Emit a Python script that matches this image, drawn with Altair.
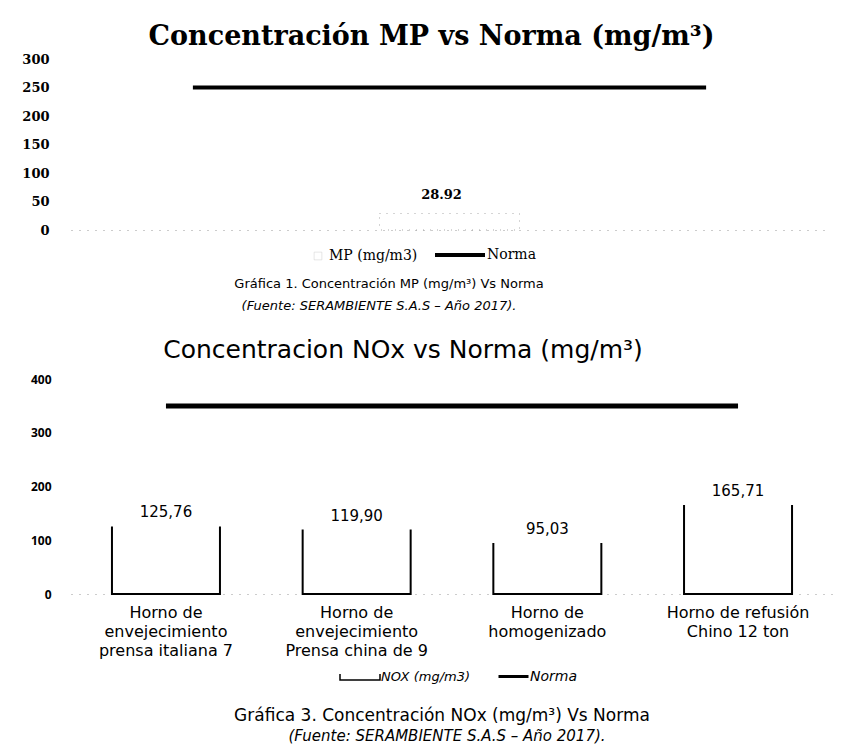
import altair as alt
import pandas as pd

# ---------- data ----------
mp_categories = ["c1", "c2", "c3"]
mp_values = [None, 28.92, None]
mp_norma = [250, 250, 250]
mp_ticks = [0, 50, 100, 150, 200, 250, 300]

nox_categories = [
    "Horno de|envejecimiento|prensa italiana 7",
    "Horno de|envejecimiento|Prensa china de 9",
    "Horno de|homogenizado",
    "Horno de refusión|Chino 12 ton",
]
nox_values = [125.76, 119.90, 95.03, 165.71]
nox_norma = [350, 350, 350, 350]
nox_ticks = [0, 100, 200, 300, 400]

mp_title = "Concentración MP vs Norma (mg/m³)"
nox_title = "Concentracion NOx vs Norma (mg/m³)"
mp_caption = ["Gráfica 1. Concentración MP (mg/m³) Vs Norma", "(Fuente: SERAMBIENTE S.A.S – Año 2017)."]
nox_caption = ["Gráfica 3. Concentración NOx (mg/m³) Vs Norma", "(Fuente: SERAMBIENTE S.A.S – Año 2017)."]

mp_df = pd.DataFrame({"cat": mp_categories, "mp": mp_values, "norma": mp_norma,
                      "s_bar": "MP (mg/m3)", "s_line": "Norma"})
nox_df = pd.DataFrame({"cat": nox_categories, "nox": nox_values, "norma": nox_norma,
                       "s_bar": "NOX (mg/m3)", "s_line": "Norma"})

SERIF = "DejaVu Serif"
SANS = "DejaVu Sans"

# ---------- chart 1 : MP ----------
W1, H1 = 757, 171
x1 = alt.X("cat:N", sort=mp_categories, title=None,
           scale=alt.Scale(paddingInner=0.45, paddingOuter=0.2),
           axis=alt.Axis(labels=False, ticks=False, domainColor="#999", domainDash=[1, 7]))
ax1 = alt.Axis(values=mp_ticks, grid=False, domain=False, ticks=False,
               labelOverlap=False, labelFont=SERIF, labelFontWeight="bold", labelFontSize=13,
               labelPadding=22, labelColor="black")
sc1 = alt.Scale(domain=[0, 300])

base1 = alt.Chart(mp_df)
bar1 = base1.transform_filter("isValid(datum.mp)").mark_bar(
    size=140, stroke="#aaa", strokeWidth=1, strokeDash=[1, 6]
).encode(
    x=x1, y=alt.Y("mp:Q", title=None, scale=sc1, axis=ax1),
    fill=alt.Fill("s_bar:N", scale=alt.Scale(domain=["MP (mg/m3)"], range=["white"]),
                  legend=alt.Legend(title=None, orient="none", legendX=240, legendY=190,
                                    symbolType="square", symbolSize=60, symbolStrokeColor="#ccc",
                                    symbolStrokeWidth=0.5, labelFont=SERIF, labelFontSize=14,
                                    labelColor="black")),
)
text1 = base1.transform_filter("isValid(datum.mp)").mark_text(
    dy=-19, dx=-8, font=SERIF, fontSize=13, fontWeight="bold", color="black"
).encode(x=x1, y=alt.Y("mp:Q", title=None, scale=sc1, axis=ax1),
         text=alt.Text("mp:Q", format=".2f"))
line1 = base1.mark_line(strokeWidth=4).encode(
    x=x1, y=alt.Y("norma:Q", title=None, scale=sc1, axis=ax1),
    stroke=alt.Stroke("s_line:N", scale=alt.Scale(domain=["Norma"], range=["black"]),
                      legend=alt.Legend(title=None, orient="none", legendX=362, legendY=169,
                                        symbolType="stroke", symbolSize=2500, symbolStrokeWidth=4,
                                        labelFont=SERIF, labelFontSize=14, labelColor="black",
                                        labelOffset=0)),
)
cap1a = alt.Chart(pd.DataFrame({"t": [mp_caption[0]]})).mark_text(
    font=SANS, fontSize=13, color="black", baseline="middle"
).encode(text="t:N", x=alt.value(318), y=alt.value(225))
cap1b = alt.Chart(pd.DataFrame({"t": [mp_caption[1]]})).mark_text(
    font=SANS, fontSize=13, fontStyle="italic", color="black", baseline="middle"
).encode(text="t:N", x=alt.value(308), y=alt.value(247))

chart1 = alt.layer(bar1, line1, text1, cap1a, cap1b).properties(
    width=W1, height=H1,
    title=alt.TitleParams(mp_title, font=SERIF, fontSize=27, fontWeight="bold", color="black",
                          anchor="middle", dx=-18, offset=-19, baseline="alphabetic"),
)

# ---------- chart 2 : NOx ----------
W2, H2 = 762, 215
x2 = alt.X("cat:N", sort=nox_categories, title=None,
           scale=alt.Scale(paddingInner=0.434, paddingOuter=0.215),
           axis=alt.Axis(labelExpr="split(datum.value, '|')", labelAngle=0, ticks=False,
                         domainColor="#999", domainDash=[1, 7], labelFont=SANS, labelFontSize=16,
                         labelColor="black", labelLineHeight=19, labelPadding=10, labelBaseline="top"))
ax2 = alt.Axis(values=nox_ticks, grid=False, domain=False, ticks=False,
               labelOverlap=False, labelFont="Open Sans", labelFontWeight="bold",
               labelFontSize=12, labelPadding=20, labelColor="black")
sc2 = alt.Scale(domain=[0, 400])

base2 = alt.Chart(nox_df)
bar2 = base2.mark_bar(size=108, stroke="black", strokeWidth=2, strokeDash=[0, 108, 3000]).encode(
    x=x2, y=alt.Y("nox:Q", title=None, scale=sc2, axis=ax2),
    fill=alt.Fill("s_bar:N", scale=alt.Scale(domain=["NOX (mg/m3)"], range=["white"]),
                  legend=alt.Legend(title=None, orient="none", legendX=268, legendY=277,
                                    symbolType="M-1,-0.15L-1,0.15L1,0.15L1,-0.15", symbolSize=1600,
                                    symbolStrokeColor="black", symbolStrokeWidth=1.5,
                                    labelFont=SANS, labelFontSize=13, labelFontStyle="italic",
                                    labelColor="black", labelOffset=0)),
)
text2 = base2.transform_calculate(
    lbl="replace(format(datum.nox, '.2f'), '.', ',')"
).mark_text(dy=-6, font=SANS, fontSize=15, color="black", baseline="bottom").encode(
    x=x2, y=alt.Y("nox:Q", title=None, scale=sc2, axis=ax2), text="lbl:N")
line2 = base2.mark_line(strokeWidth=5).encode(
    x=x2, y=alt.Y("norma:Q", title=None, scale=sc2, axis=ax2),
    stroke=alt.Stroke("s_line:N", scale=alt.Scale(domain=["Norma"], range=["black"]),
                      legend=alt.Legend(title=None, orient="none", legendX=426, legendY=281,
                                        symbolType="stroke", symbolSize=900, symbolStrokeWidth=3,
                                        labelFont=SANS, labelFontSize=14, labelFontStyle="italic",
                                        labelColor="black", labelOffset=0)),
)
cap2a = alt.Chart(pd.DataFrame({"t": [nox_caption[0]]})).mark_text(
    font=SANS, fontSize=17, color="black", baseline="middle"
).encode(text="t:N", x=alt.value(371), y=alt.value(337))
cap2b = alt.Chart(pd.DataFrame({"t": [nox_caption[1]]})).mark_text(
    font=SANS, fontSize=15, fontStyle="italic", color="black", baseline="middle"
).encode(text="t:N", x=alt.value(376), y=alt.value(357))

chart2 = alt.layer(bar2, line2, text2, cap2a, cap2b).properties(
    width=W2, height=H2,
    title=alt.TitleParams(nox_title, font=SANS, fontSize=25, fontWeight="normal", color="black",
                          anchor="middle", dx=-49, offset=-10, baseline="alphabetic"),
)

chart = alt.vconcat(chart1, chart2, spacing=149, bounds="flush").resolve_scale(
    fill="independent", stroke="independent", x="independent", y="independent"
).resolve_legend(fill="independent", stroke="independent").properties(
    padding={"left": 13, "top": 15, "right": 0, "bottom": 0}, background="white"
).configure_view(strokeWidth=0, stroke="transparent")

chart.save("out.html", embed_options={"renderer": "svg", "actions": False})
